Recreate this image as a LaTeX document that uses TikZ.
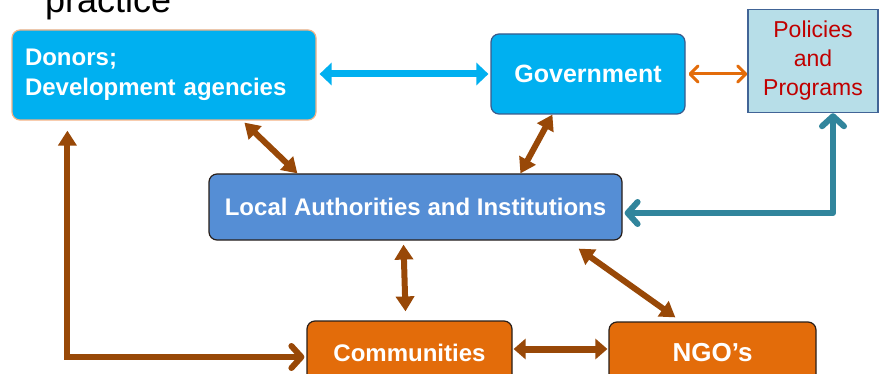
\documentclass[tikz,border=0pt]{standalone}
\usepackage{fontspec}
\setmainfont{Liberation Sans}
\usetikzlibrary{arrows.meta,calc,positioning}
\definecolor{skyblue}{RGB}{0,176,240}
\definecolor{peach}{RGB}{244,177,131}
\definecolor{navyline}{RGB}{58,90,140}
\definecolor{localblue}{RGB}{85,142,213}
\definecolor{orangefill}{RGB}{227,108,10}
\definecolor{darkline}{RGB}{40,30,25}
\definecolor{polfill}{RGB}{183,222,232}
\definecolor{polline}{RGB}{65,100,150}
\definecolor{polred}{RGB}{192,0,0}
\definecolor{brownarrow}{RGB}{152,72,7}
\definecolor{tealarrow}{RGB}{49,133,156}
\tikzset{
  box/.style={rectangle,rounded corners=8pt,draw=darkline,line width=1.2pt,text=white,
    font=\bfseries\fontsize{24}{30}\selectfont},
  link/.style={draw=brownarrow,line width=6pt,
    {Triangle[length=15pt,width=18pt]}-{Triangle[length=15pt,width=18pt]}},
  barb/.tip={Straight Barb[length=10pt,width=22pt,round]}
}
\begin{document}
\begin{tikzpicture}[x=1pt,y=-1pt]
\clip(0,0)rectangle(880,374);
%heading
\node[anchor=base west,inner sep=0pt,font=\fontsize{36}{40}\selectfont](head)at(45,13){practice};
%boxes
\node[box,fill=skyblue,draw=peach,minimum width=304pt,minimum height=90pt,text width=278pt,align=left](donors)at(164,75){Donors;\\Development agencies};
\node[box,fill=skyblue,draw=navyline,minimum width=194pt,minimum height=80pt,font=\bfseries\fontsize{25}{30}\selectfont](gov)at(588,74){Government};
\node[rectangle,fill=polfill,draw=polline,line width=1.5pt,minimum width=130pt,minimum height=103pt,align=center,text=polred,font=\fontsize{23}{29}\selectfont](pol)at(813,61){Policies\\and\\Programs};
\node[box,fill=localblue,minimum width=413pt,minimum height=66pt](local)at(415.5,207){Local Authorities and Institutions};
\node[box,fill=orangefill,minimum width=205pt,minimum height=64pt](comm)at(409.5,353){Communities};
\node[box,fill=orangefill,minimum width=207pt,minimum height=62pt,font=\bfseries\fontsize{26}{30}\selectfont](ngo)at(712.5,353){NGO’s};
%arrows
\draw[skyblue,line width=7pt,{Triangle[length=12pt,width=22pt]}-{Triangle[length=12pt,width=22pt]}]($(donors.east)+(3,-1)$)--($(gov.west)+(-2,0)$);
\draw[orangefill,line width=3pt,{Straight Barb[length=8pt,width=16pt,round]}-{Straight Barb[length=8pt,width=16pt,round]}]($(gov.east)+(3,0)$)--(gov.east-|pol.west);
\draw[link]($(donors.south west)+(233,2)$)--($(local.north west)+(89,0)$);
\draw[link]($(gov.south west)+(62,0)$)--($(local.north west)+(312,0)$);
\draw[link]($(local.south)+(-12,4)$)--($(comm.north)+(-4,-9)$);
\draw[link]($(local.south east)+(-44,8)$)--($(ngo.north west)+(67,-4)$);
\draw[draw=brownarrow,line width=7pt,{Triangle[length=12pt,width=20pt]}-{Triangle[length=12pt,width=20pt]}]($(comm.east)+(1,-4)$)--($(ngo.west)+(-1,-4)$);
\draw[draw=tealarrow,line width=6pt,line join=round,barb-barb]($(pol.south)+(20,0)$)|-($(local.east)+(2,6)$);
\draw[draw=brownarrow,line width=6pt,{Triangle[length=15pt,width=18pt]}-barb]($(donors.south west)+(56,10)$)|-($(comm.west)+(-2,4)$);
\end{tikzpicture}
\end{document}
